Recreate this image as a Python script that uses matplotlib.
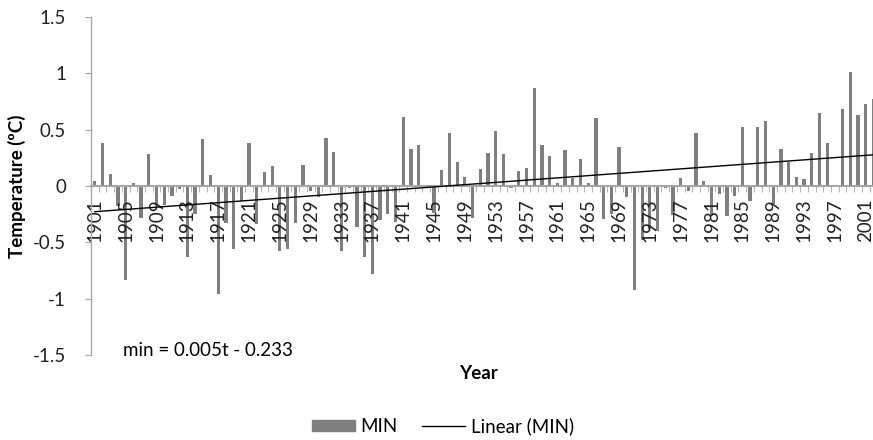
import matplotlib
matplotlib.use("Agg")
import matplotlib.pyplot as plt
import numpy as np
from matplotlib.patches import Patch
from matplotlib.lines import Line2D
from matplotlib.ticker import FuncFormatter, MultipleLocator

plt.rcParams['font.family'] = ['Lato', 'DejaVu Sans']
plt.rcParams['axes.unicode_minus'] = False

# yearly minimum temperature anomaly (ºC), 1901-2002
years = list(range(1901, 2003))
tmin = [0.04, 0.38, 0.11, -0.18, -0.83, 0.03, -0.28, 0.28, -0.17, -0.17,
        -0.09, -0.03, -0.63, -0.25, 0.42, 0.10, -0.96, -0.33, -0.56, -0.13,
        0.38, -0.34, 0.12, 0.18, -0.58, -0.56, -0.33, 0.19, -0.04, -0.10,
        0.43, 0.30, -0.58, -0.02, -0.36, -0.63, -0.78, -0.30, -0.25, -0.32,
        0.61, 0.33, 0.36, -0.01, -0.24, 0.14, 0.47, 0.21, 0.08, -0.28,
        0.15, 0.29, 0.49, 0.28, -0.02, 0.13, 0.16, 0.87, 0.36, 0.27,
        0.03, 0.32, 0.07, 0.24, 0.03, 0.60, -0.29, -0.25, 0.35, -0.10,
        -0.92, -0.48, -0.38, -0.40, -0.02, -0.26, 0.07, -0.04, 0.47, 0.04,
        -0.27, -0.07, -0.27, -0.09, 0.52, -0.13, 0.52, 0.58, -0.16, 0.33,
        0.21, 0.08, 0.065, 0.29, 0.645, 0.385, 0.0, 0.68, 1.015, 0.63,
        0.73, 0.775]

# trend line as printed on the chart: min = 0.005t - 0.233
slope = 0.005
intercept = -0.233

bar_color = '#7f7f7f'
axis_color = '#a6a6a6'
fs = 13.5

fig = plt.figure(figsize=(8.73, 4.40), dpi=100)
ax = fig.add_axes([91/873, 1 - 355/440, 782/873, 338/440])

x = np.arange(len(years))
t = x + 1
ax.bar(x, tmin, width=0.42, color=bar_color, zorder=1)
ax.plot(x, slope*t + intercept, color='black', lw=1.0, zorder=3)

ax.set_xlim(-0.5, 100.95)
ax.set_ylim(-1.5, 1.5)

# spines
for s in ['top', 'right']:
    ax.spines[s].set_visible(False)
ax.spines['left'].set_color(axis_color)
ax.spines['bottom'].set_position(('data', 0))
ax.spines['bottom'].set_color(axis_color)
ax.spines['left'].set_linewidth(1.0)
ax.spines['bottom'].set_linewidth(1.5)

# y axis
ax.yaxis.set_major_locator(MultipleLocator(0.5))
ax.yaxis.set_major_formatter(FuncFormatter(lambda v, p: '%g' % v))
ax.tick_params(axis='y', length=4, color=axis_color, pad=14, labelsize=fs,
               labelcolor='#222222')

# x axis: labels every 4 years, small ticks between categories
ax.set_xticks(x[::4])
ax.set_xticklabels([str(y) for y in years[::4]], rotation=90)
ax.set_xticks(x[:-1] + 0.5, minor=True)
ax.tick_params(axis='x', which='major', length=0, pad=9, labelsize=fs,
               labelcolor='#222222')
ax.tick_params(axis='x', which='minor', length=4, color=axis_color)
for lab in ax.get_xticklabels():
    lab.set_verticalalignment('top')

fig.text(17/873, 1 - 186/440, 'Temperature (ºC)', fontsize=fs, fontweight='bold',
         rotation=90, ha='center', va='center')
fig.text(478/873, 1 - 373/440, 'Year', fontsize=fs, fontweight='bold',
         ha='center', va='center')
ax.text(32/782, 5/338, 'min = 0.005t - 0.233', transform=ax.transAxes,
        fontsize=fs, ha='left', va='center')

handles = [Patch(color=bar_color, label='MIN'),
           Line2D([], [], color='black', lw=1.0, label='Linear (MIN)')]
fig.legend(handles=handles, loc='center', bbox_to_anchor=(443/873, 1 - 426/440),
           ncol=2, frameon=False, fontsize=fs, handlelength=2.3,
           handleheight=0.5, handletextpad=0.3, columnspacing=1.3)

fig.savefig('out.png', dpi=100)
